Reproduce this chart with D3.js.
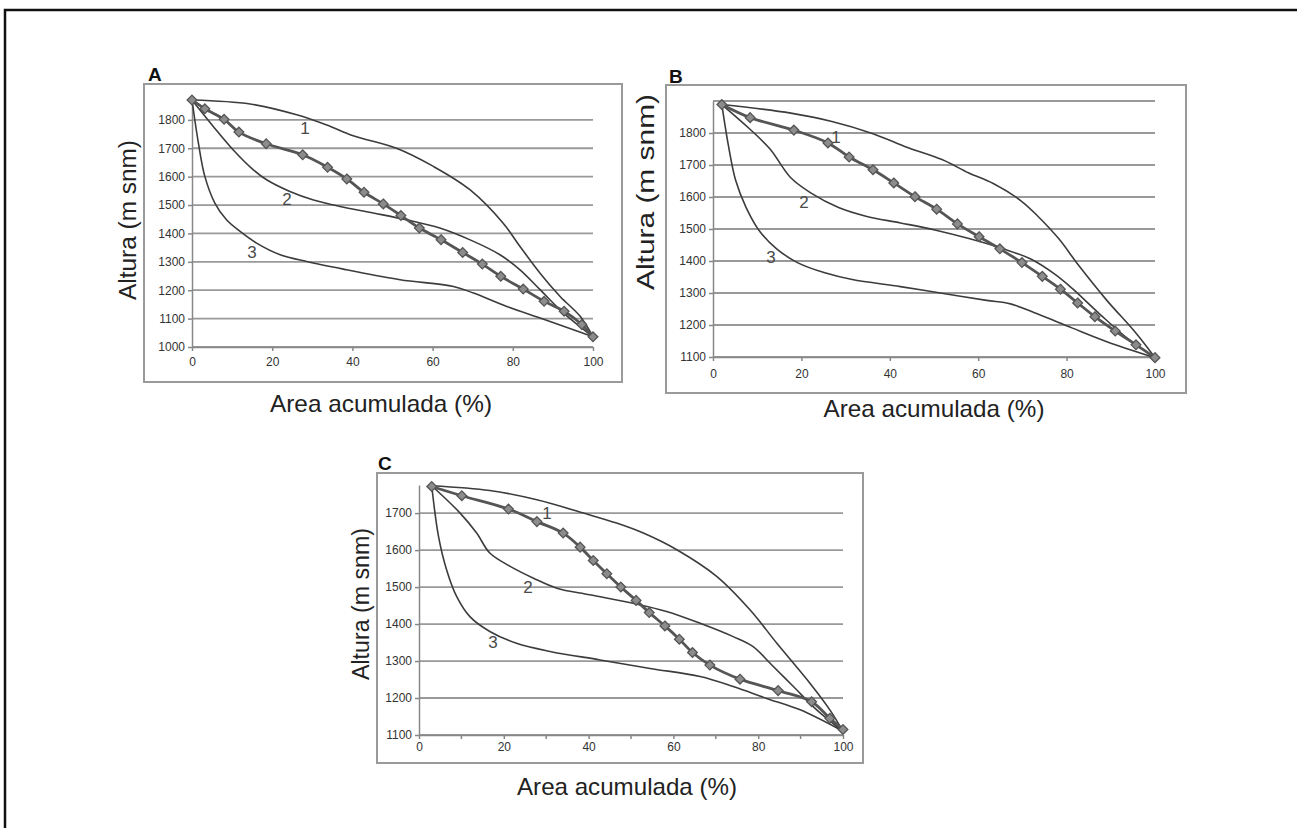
<!DOCTYPE html>
<html>
<head>
<meta http-equiv="Content-Type" content="text/html; charset=utf-8">
<!-- D3 from the CDN -->
<script src="https://cdnjs.cloudflare.com/ajax/libs/d3/7.8.5/d3.min.js"></script>
<style>
  body { margin: 0; background: #fff; }
  svg text { font-family: "Liberation Sans", Arial, sans-serif; }
</style>
</head>
<body>
<div id="chart"></div>
<script type="text/javascript">

// ------------------------------------------- DATA  ([area %, altura m snm])

var xTicks = [0, 20, 40, 60, 80, 100];
var yTicksA = [1000, 1100, 1200, 1300, 1400, 1500, 1600, 1700, 1800];
var yGridB = [1100, 1200, 1300, 1400, 1500, 1600, 1700, 1800, 1900];
var yTicksB = [1100, 1200, 1300, 1400, 1500, 1600, 1700, 1800];
var yTicksC = [1100, 1200, 1300, 1400, 1500, 1600, 1700];

// panel A
var a_obs = [[0,1870],[3.2,1839],[8,1802],[11.7,1757],[18.5,1716],[27.6,1677],[33.8,1633],[38.6,1592],[42.9,1545],[47.7,1504],[52.1,1463],[56.7,1419],[62.1,1378],[67.5,1333],[72.4,1292],[77,1249],[82.6,1204],[87.8,1161],[92.8,1126],[97.2,1079],[100,1036]];
var a_c1 = [[0,1870],[14.5,1856],[26.1,1818],[33.6,1782],[40.2,1744],[51,1700],[60.2,1636],[69.3,1554],[77.6,1436],[81.8,1354],[86.8,1260],[91.8,1178],[96.8,1108],[100,1036]];
var a_c2 = [[0,1870],[5.3,1777],[10.3,1694],[15.3,1624],[18.6,1589],[24.4,1548],[30.3,1518],[36.9,1495],[45.2,1472],[53.5,1448],[61.8,1419],[70.2,1372],[76.8,1325],[81.8,1272],[86.8,1202],[92.6,1120],[100,1036]];
var a_c3 = [[0,1870],[1.6,1718],[3.2,1601],[5.7,1507],[8.6,1448],[12,1407],[16.1,1366],[22,1325],[28.6,1301],[38.6,1272],[51.9,1237],[65.2,1213],[70.2,1190],[78.5,1143],[86.8,1102],[95.1,1061],[100,1036]];

// panel B
var b_obs = [[2,1889],[8.4,1848],[18.3,1809],[26,1769],[30.8,1725],[36.2,1685],[40.9,1644],[45.7,1601],[50.6,1562],[55.3,1516],[60.2,1476],[64.9,1438],[69.9,1395],[74.5,1352],[78.6,1312],[82.5,1269],[86.4,1226],[91,1181],[95.7,1138],[100,1098]];
var b_c1 = [[2,1889],[17.6,1862],[26.9,1836],[36.2,1798],[44,1755],[51.8,1717],[57.9,1675],[63.4,1642],[69.6,1589],[73.5,1540],[78.2,1470],[82.8,1385],[89.1,1277],[95.3,1181],[100,1098]];
var b_c2 = [[2,1889],[8.2,1814],[12.9,1750],[17.6,1660],[22.2,1612],[28.4,1567],[34.6,1540],[42.4,1519],[50.2,1497],[57.9,1470],[65.7,1438],[71.9,1406],[77.4,1358],[81.2,1315],[87.5,1234],[93.7,1159],[100,1098]];
var b_c3 = [[2,1889],[3.5,1760],[5.1,1653],[7.5,1567],[10.6,1492],[14.4,1438],[19.1,1395],[25.3,1363],[31.5,1342],[42.4,1320],[51.8,1299],[61.9,1277],[67.3,1266],[73.5,1234],[81.2,1191],[89.1,1148],[100,1098]];

// panel C
var c_obs = [[3,1772],[10.1,1747],[21.1,1711],[27.8,1677],[34,1646],[38,1608],[41.1,1572],[44.3,1536],[47.6,1500],[51.2,1464],[54.3,1431],[58,1395],[61.4,1359],[64.5,1323],[68.6,1289],[75.7,1251],[84.7,1220],[92.6,1190],[96.9,1145],[100,1115]];
var c_c1 = [[3,1774],[16.7,1761],[27.8,1736],[38.8,1700],[46.6,1673],[52.9,1646],[60.8,1601],[70.2,1529],[78.1,1438],[84.4,1348],[92.2,1240],[96.9,1168],[100,1110]];
var c_c2 = [[3,1774],[9.7,1700],[13.6,1646],[16.7,1592],[21.5,1556],[27,1524],[32.5,1497],[40.3,1479],[50.5,1456],[58.4,1434],[66.3,1402],[74.1,1366],[78.8,1339],[82.8,1294],[88.3,1231],[93.8,1168],[100,1110]];
var c_c3 = [[3,1774],[4.6,1637],[6.5,1547],[8.9,1474],[12,1420],[16.7,1380],[23,1348],[30.9,1326],[42.7,1303],[54.5,1280],[66.3,1258],[74.1,1231],[82,1199],[89.9,1168],[100,1110]];

var curveNames = ["1", "2", "3"];

// ------------------------------------------- LAYOUT

var panels = [
  { letter: "A", frame: [144, 84, 622, 382], xr: [192, 593], yr: [347, 98], ydom: [1000, 1877],
    yTicks: yTicksA, yGrid: yTicksA, obs: a_obs, curves: [a_c1, a_c2, a_c3], xpad: 6.5, minor: false,
    letterPos: [148, 81], yLab: [128, 220, 160], xLab: [381, 412, 222],
    numPos: [[305, 134], [287, 205], [252, 258]] },
  { letter: "B", frame: [666, 85, 1186, 393], xr: [713, 1155], yr: [357, 101], ydom: [1100, 1900],
    yTicks: yTicksB, yGrid: yGridB, obs: b_obs, curves: [b_c1, b_c2, b_c3], xpad: 8.5, minor: false,
    letterPos: [669, 83], yLab: [646, 192, 196], xLab: [934, 417, 221],
    numPos: [[836, 143], [804, 208], [771, 263]] },
  { letter: "C", frame: [377, 473, 863, 763], xr: [419, 843], yr: [735, 485], ydom: [1100, 1776],
    yTicks: yTicksC, yGrid: yTicksC, obs: c_obs, curves: [c_c1, c_c2, c_c3], xpad: 3.5, minor: true,
    letterPos: [378, 470], yLab: [361, 604, 152], xLab: [627, 795, 220],
    numPos: [[547, 519], [528, 593], [493, 648]] }
];

var width = 1297;
var height = 828;

var svg = d3.select("#chart")
  .append("svg")
  .attr("width", width)
  .attr("height", height);

// outer border of the figure (only top and left edges are in the picture)
svg.append("path")
  .attr("d", "M5," + height + "V10H" + width)
  .attr("fill", "none")
  .attr("stroke", "#111")
  .attr("stroke-width", 2.5);

var fmt = d3.format("d");

// ------------------------------------------- DRAW EACH PANEL

panels.forEach(function(p) {
  var g = svg.append("g");

  var x = d3.scaleLinear().domain([0, 100]).range(p.xr);
  var y = d3.scaleLinear().domain(p.ydom).range(p.yr);

  // gray chart frame
  g.append("rect")
    .attr("x", p.frame[0]).attr("y", p.frame[1])
    .attr("width", p.frame[2] - p.frame[0])
    .attr("height", p.frame[3] - p.frame[1])
    .attr("fill", "none")
    .attr("stroke", "#9a9a9a")
    .attr("stroke-width", 2);

  // horizontal gridlines
  g.selectAll("line.grid")
    .data(p.yGrid)
    .enter()
    .append("line")
    .attr("class", "grid")
    .attr("x1", x(0)).attr("x2", x(100))
    .attr("y1", function(d) { return y(d); })
    .attr("y2", function(d) { return y(d); })
    .attr("stroke", "#999")
    .attr("stroke-width", 1.8);

  // y axis
  var yAxis = g.append("g")
    .attr("transform", "translate(" + x(0) + ",0)")
    .call(d3.axisLeft(y).tickValues(p.yTicks).tickFormat(fmt).tickSize(4).tickSizeOuter(0).tickPadding(3));
  yAxis.select(".domain").attr("stroke", "#888").attr("stroke-width", 1.5);
  yAxis.selectAll(".tick line").attr("stroke", "#888").attr("stroke-width", 1.5);
  yAxis.selectAll("text").attr("font-size", 12).attr("fill", "#333")
    .attr("font-family", "Liberation Sans, Arial, sans-serif");

  // x axis
  var xAxis = g.append("g")
    .attr("transform", "translate(0," + y(p.ydom[0]) + ")")
    .call(d3.axisBottom(x).tickValues(xTicks).tickFormat(fmt).tickSize(4).tickSizeOuter(0).tickPadding(p.xpad));
  xAxis.select(".domain").attr("stroke", "#888").attr("stroke-width", 1.5);
  xAxis.selectAll(".tick line").attr("stroke", "#888").attr("stroke-width", 1.5);
  xAxis.selectAll("text").attr("font-size", 12).attr("fill", "#333")
    .attr("font-family", "Liberation Sans, Arial, sans-serif");

  if (p.minor) {
    g.selectAll("line.minor")
      .data(d3.range(10, 100, 20))
      .enter()
      .append("line")
      .attr("x1", function(d) { return x(d); })
      .attr("x2", function(d) { return x(d); })
      .attr("y1", y(p.ydom[0]))
      .attr("y2", y(p.ydom[0]) + 4)
      .attr("stroke", "#888")
      .attr("stroke-width", 1.5);
  }

  var line = d3.line()
    .x(function(d) { return x(d[0]); })
    .y(function(d) { return y(d[1]); })
    .curve(d3.curveCatmullRom.alpha(0.5));

  // the three reference curves
  p.curves.forEach(function(c) {
    g.append("path")
      .datum(c)
      .attr("d", line)
      .attr("fill", "none")
      .attr("stroke", "#3c3c3c")
      .attr("stroke-width", 1.6);
  });

  // observed curve with diamond markers
  g.append("path")
    .datum(p.obs)
    .attr("d", line)
    .attr("fill", "none")
    .attr("stroke", "#555")
    .attr("stroke-width", 2.8);

  g.selectAll("path.diamond")
    .data(p.obs)
    .enter()
    .append("path")
    .attr("class", "diamond")
    .attr("d", d3.symbol().type(d3.symbolDiamond2).size(60))
    .attr("transform", function(d) { return "translate(" + x(d[0]) + "," + y(d[1]) + ")"; })
    .attr("fill", "#8c8c8c")
    .attr("stroke", "#555")
    .attr("stroke-width", 1.3);

  // curve numbers
  g.selectAll("text.num")
    .data(curveNames)
    .enter()
    .append("text")
    .attr("x", function(d, i) { return p.numPos[i][0]; })
    .attr("y", function(d, i) { return p.numPos[i][1]; })
    .attr("text-anchor", "middle")
    .attr("font-size", 17)
    .attr("fill", "#4a4a4a")
    .text(function(d) { return d; });

  // panel letter
  g.append("text")
    .attr("x", p.letterPos[0]).attr("y", p.letterPos[1])
    .attr("font-size", 19)
    .attr("font-weight", "bold")
    .attr("fill", "#111")
    .text(p.letter);

  // axis titles
  g.append("text")
    .attr("transform", "translate(" + p.yLab[0] + "," + p.yLab[1] + ") rotate(-90)")
    .attr("text-anchor", "middle")
    .attr("dy", "0.35em")
    .attr("font-size", 23)
    .attr("textLength", p.yLab[2])
    .attr("lengthAdjust", "spacingAndGlyphs")
    .attr("fill", "#222")
    .text("Altura (m snm)");

  g.append("text")
    .attr("x", p.xLab[0]).attr("y", p.xLab[1])
    .attr("text-anchor", "middle")
    .attr("font-size", 24)
    .attr("textLength", p.xLab[2])
    .attr("lengthAdjust", "spacingAndGlyphs")
    .attr("fill", "#222")
    .text("Area acumulada (%)");
});

</script>
</body>
</html>
